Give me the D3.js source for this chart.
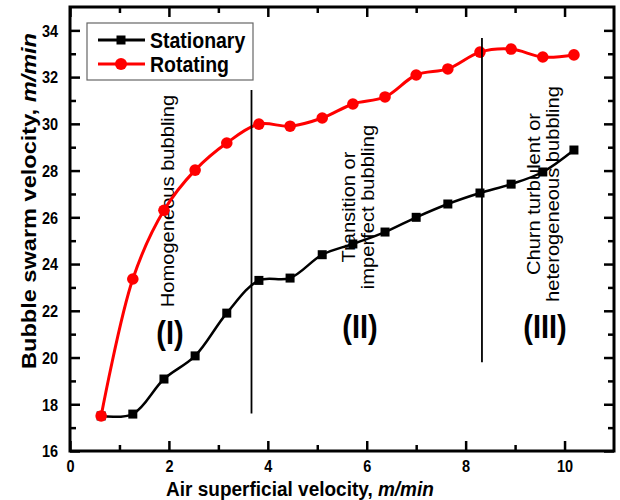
<!DOCTYPE html>
<html>
<head>
<meta charset="utf-8">
<script src="https://d3js.org/d3.v7.min.js"></script>
<style>
  body { margin: 0; background: #fff; }
  svg text { font-family: "Liberation Sans", Arial, sans-serif; fill: #000; }
</style>
</head>
<body>
<svg id="chart" width="620" height="500"></svg>
<script>
  // air superficial velocity (m/min)
  const airVel = [0.63, 1.27, 1.90, 2.53, 3.17, 3.82, 4.45, 5.10, 5.72, 6.37, 7.00, 7.64, 8.29, 8.92, 9.56, 10.19];
  const stationary = [17.5, 17.58, 19.08, 20.07, 21.9, 23.3, 23.4, 24.4, 24.86, 25.37, 26.0, 26.57, 27.04, 27.42, 27.94, 28.88];
  const rotating = [17.5, 23.36, 26.3, 28.02, 29.18, 29.99, 29.9, 30.25, 30.85, 31.15, 32.09, 32.35, 33.07, 33.2, 32.86, 32.95];

  const xMajor = [0, 2, 4, 6, 8, 10];
  const xMinor = [1, 3, 5, 7, 9];
  const yMajor = [16, 18, 20, 22, 24, 26, 28, 30, 32, 34];
  const yMinor = [17, 19, 21, 23, 25, 27, 29, 31, 33];

  // regime boundaries
  const boundaries = [
    { x: 3.67, from: 17.6, to: 31.45 },
    { x: 8.33, from: 19.8, to: 33.67 }
  ];

  const margin = { top: 7, right: 6, bottom: 49, left: 70 };
  const svg = d3.select("#chart"),
    W = +svg.attr("width"),
    H = +svg.attr("height");

  const x = d3.scaleLinear().domain([0, 11]).range([margin.left, W - margin.right]);
  const y = d3.scaleLinear().domain([16, 35]).range([H - margin.bottom, margin.top]);

  const stretch = 1.15; // source picture is a bit taller than wide

  // annotations (under the curves)
  function vText(cx, cy, lines, size, weight, gap) {
    const t = svg.append("text")
      .attr("transform", `translate(${cx},${cy}) rotate(-90) scale(${stretch},1)`)
      .attr("text-anchor", "middle")
      .style("font-size", size + "px")
      .style("font-weight", weight);
    lines.forEach((l, i) => {
      t.append("tspan").attr("x", 0).attr("y", i * gap).text(l);
    });
  }
  vText(174, 201, ["Homogeneous bubbling"], 17.5, "normal", 0);
  vText(355, 207, ["Transition or", "imperfect bubbling"], 17.5, "normal", 19.5);
  vText(540, 194, ["Churn turbulent or", "heterogeneous bubbling"], 17.5, "normal", 19.5);

  function hText(cx, cy, txt, size) {
    svg.append("text")
      .attr("transform", `translate(${cx},${cy}) scale(1,${stretch})`)
      .attr("text-anchor", "middle")
      .attr("dy", "0.27em")
      .style("font-size", size + "px")
      .style("font-weight", "bold")
      .text(txt);
  }
  hText(170, 335, "(I)", 29);
  hText(360, 329, "(II)", 29);
  hText(545, 329, "(III)", 29);

  // curves
  const line = d3.line()
    .x((d, i) => x(airVel[i]))
    .y(d => y(d))
    .curve(d3.curveCatmullRom.alpha(0.5));

  svg.append("path").datum(stationary)
    .attr("d", line).attr("fill", "none")
    .attr("stroke", "#000").attr("stroke-width", 2.5);

  svg.selectAll(".sq").data(stationary).enter().append("rect")
    .attr("class", "sq")
    .attr("x", (d, i) => x(airVel[i]) - 4.5)
    .attr("y", d => y(d) - 4.5)
    .attr("width", 9).attr("height", 9)
    .attr("fill", "#000");

  svg.append("path").datum(rotating)
    .attr("d", line).attr("fill", "none")
    .attr("stroke", "#ff0000").attr("stroke-width", 3);

  svg.selectAll(".dot").data(rotating).enter().append("circle")
    .attr("class", "dot")
    .attr("cx", (d, i) => x(airVel[i]))
    .attr("cy", d => y(d))
    .attr("r", 5.8)
    .attr("fill", "#ff0000");

  // regime boundary lines
  svg.selectAll(".bnd").data(boundaries).enter().append("line")
    .attr("class", "bnd")
    .attr("x1", d => x(d.x)).attr("x2", d => x(d.x))
    .attr("y1", d => y(d.from)).attr("y2", d => y(d.to))
    .attr("stroke", "#000").attr("stroke-width", 1.8);

  // axes: ticks point inward, on all four sides
  const x0 = y(16), x1 = y(35), yl = x(0), yr = x(11);
  function ticks(axis, tr) {
    const g = svg.append("g").attr("transform", tr).call(axis);
    g.select(".domain").remove();
    g.selectAll(".tick line").attr("stroke", "#000").attr("stroke-width", 2.5);
    return g;
  }
  const bottom = ticks(d3.axisBottom(x).tickValues(xMajor).tickSize(-10).tickFormat(d3.format("d")), `translate(0,${x0})`);
  ticks(d3.axisBottom(x).tickValues(xMinor).tickSize(-6).tickFormat(""), `translate(0,${x0})`);
  ticks(d3.axisTop(x).tickValues(xMajor).tickSize(-10).tickFormat(""), `translate(0,${x1})`);
  ticks(d3.axisTop(x).tickValues(xMinor).tickSize(-6).tickFormat(""), `translate(0,${x1})`);
  const left = ticks(d3.axisLeft(y).tickValues(yMajor).tickSize(-10).tickFormat(d3.format("d")), `translate(${yl},0)`);
  ticks(d3.axisLeft(y).tickValues(yMinor).tickSize(-6).tickFormat(""), `translate(${yl},0)`);
  ticks(d3.axisRight(y).tickValues(yMajor).tickSize(-10).tickFormat(""), `translate(${yr},0)`);
  ticks(d3.axisRight(y).tickValues(yMinor).tickSize(-6).tickFormat(""), `translate(${yr},0)`);

  bottom.attr("font-size", null).attr("font-family", null);
  left.attr("font-size", null).attr("font-family", null);

  bottom.selectAll(".tick text")
    .attr("y", null).attr("dy", null)
    .attr("transform", `translate(0,15) scale(1,${stretch})`)
    .attr("dominant-baseline", "central")
    .style("font-size", "14.5px").style("font-weight", "bold")
    .attr("fill", "#000");
  left.selectAll(".tick text")
    .attr("x", null).attr("dy", null)
    .attr("transform", `translate(-12,0) scale(1,${stretch})`)
    .attr("dominant-baseline", "central")
    .style("font-size", "14.5px").style("font-weight", "bold")
    .attr("fill", "#000");

  svg.append("rect")
    .attr("x", yl).attr("y", x1)
    .attr("width", yr - yl).attr("height", x0 - x1)
    .attr("fill", "none").attr("stroke", "#000").attr("stroke-width", 3);

  // axis titles
  const xt = svg.append("text")
    .attr("transform", `translate(300,496) scale(1,1.1)`)
    .attr("text-anchor", "middle")
    .style("font-size", "19px").style("font-weight", "bold");
  xt.append("tspan").text("Air superficial velocity, ");
  xt.append("tspan").style("font-style", "italic").text("m/min");

  const yt = svg.append("text")
    .attr("transform", `translate(36,201) rotate(-90) scale(${stretch},1)`)
    .attr("text-anchor", "middle")
    .style("font-size", "20.5px").style("font-weight", "bold");
  yt.append("tspan").text("Bubble swarm velocity, ");
  yt.append("tspan").style("font-style", "italic").text("m/min");

  // legend
  const lg = svg.append("g");
  lg.append("rect")
    .attr("x", 87).attr("y", 23).attr("width", 166).attr("height", 57)
    .attr("fill", "#fff").attr("stroke", "#666").attr("stroke-width", 1.2);
  const items = [
    { name: "Stationary", color: "#000", shape: "square" },
    { name: "Rotating", color: "#ff0000", shape: "circle" }
  ];
  items.forEach((it, i) => {
    const cy = 40 + i * 24;
    lg.append("line").attr("x1", 98).attr("x2", 145).attr("y1", cy).attr("y2", cy)
      .attr("stroke", it.color).attr("stroke-width", 3);
    if (it.shape === "square") {
      lg.append("rect").attr("x", 121 - 4.5).attr("y", cy - 4.5).attr("width", 9).attr("height", 9).attr("fill", it.color);
    } else {
      lg.append("circle").attr("cx", 121).attr("cy", cy).attr("r", 6).attr("fill", it.color);
    }
    lg.append("text")
      .attr("transform", `translate(150,${cy}) scale(1,${stretch})`)
      .attr("dy", "0.36em")
      .style("font-size", "19.5px").style("font-weight", "bold")
      .text(it.name);
  });
</script>
</body>
</html>
